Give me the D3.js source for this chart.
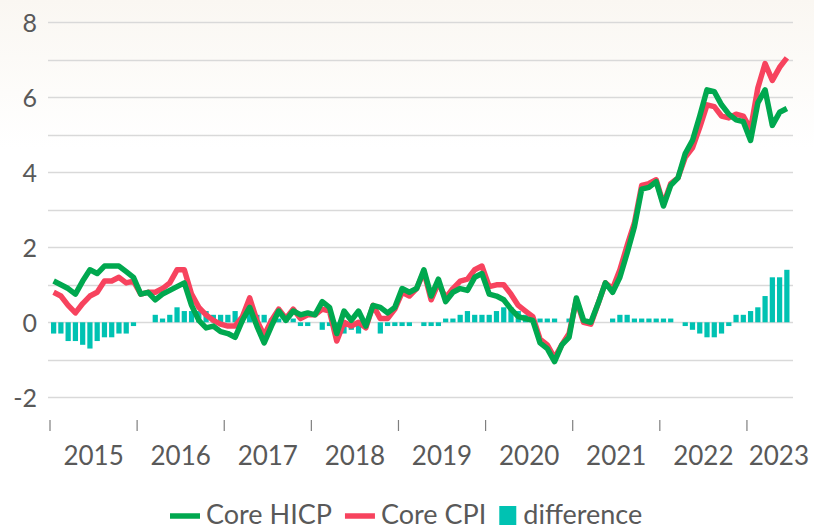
<!DOCTYPE html>
<html><head><meta charset="utf-8">
<script src="https://cdn.jsdelivr.net/npm/d3@7"></script>
<style>
body{margin:0;background:#fff}
svg{display:block}
text{font-family:Lato,"Open Sans",sans-serif;fill:#595959}
</style>
</head><body>
<svg id="chart" width="814" height="532"></svg>
<script>
// ---- data ----
const years = ["2015","2016","2017","2018","2019","2020","2021","2022","2023"];
const yTicks = [-2, 0, 2, 4, 6, 8];
const seriesNames = ["Core HICP", "Core CPI", "difference"];
const months = d3.timeMonth.range(new Date(2015, 0, 1), new Date(2023, 6, 1)); // Jan 2015 .. Jun 2023

const hicp = [
  1.1, 1.0, 0.9, 0.75, 1.1, 1.4, 1.3, 1.5, 1.5, 1.5, 1.35, 1.2,
  0.75, 0.8, 0.6, 0.75, 0.85, 0.95, 1.05, 0.45, 0.05, -0.15, -0.1, -0.25,
  -0.3, -0.4, 0.05, 0.4, -0.1, -0.55, -0.1, 0.3, 0.05, 0.3, 0.2, 0.25,
  0.2, 0.55, 0.4, -0.3, 0.3, 0.05, 0.3, -0.1, 0.45, 0.4, 0.25, 0.4,
  0.9, 0.8, 0.9, 1.4, 0.7, 1.15, 0.55, 0.8, 0.9, 0.85, 1.2, 1.3,
  0.75, 0.7, 0.6, 0.35, 0.15, 0.1, 0.05, -0.55, -0.7, -1.05, -0.6, -0.4,
  0.65, 0.05, 0.0, 0.5, 1.05, 0.8, 1.2, 1.85, 2.55, 3.55, 3.6, 3.75,
  3.1, 3.65, 3.85, 4.5, 4.85, 5.5, 6.2, 6.15, 5.8, 5.55, 5.4, 5.35,
  4.85, 5.85, 6.2, 5.25, 5.6, 5.7
];
const cpi = [
  0.8, 0.7, 0.45, 0.25, 0.5, 0.7, 0.8, 1.1, 1.1, 1.2, 1.05, 1.1,
  0.75, 0.8, 0.8, 0.9, 1.05, 1.4, 1.4, 0.75, 0.4, 0.2, 0.05, -0.05,
  -0.1, -0.1, 0.15, 0.65, 0.05, -0.35, 0.05, 0.35, 0.1, 0.35, 0.1, 0.2,
  0.2, 0.35, 0.3, -0.5, 0.0, -0.1, 0.0, -0.15, 0.45, 0.1, 0.1, 0.35,
  0.8, 0.7, 0.9, 1.35, 0.6, 1.05, 0.65, 0.9, 1.1, 1.15, 1.4, 1.5,
  0.95, 1.0, 1.0, 0.75, 0.45, 0.3, 0.15, -0.45, -0.6, -0.95, -0.6, -0.3,
  0.6, 0.0, -0.05, 0.5, 1.05, 0.9, 1.4, 2.05, 2.65, 3.65, 3.7, 3.8,
  3.15, 3.7, 3.85, 4.4, 4.65, 5.2, 5.8, 5.75, 5.5, 5.45, 5.55, 5.5,
  5.15, 6.25, 6.9, 6.45, 6.8, 7.05
];
const diff = [
  -0.3, -0.3, -0.5, -0.5, -0.6, -0.7, -0.5, -0.4, -0.4, -0.3, -0.3, -0.1,
  0, 0, 0.2, 0.1, 0.2, 0.4, 0.3, 0.3, 0.3, 0.3, 0.2, 0.2,
  0.2, 0.3, 0.1, 0.3, 0.2, 0.2, 0.1, 0.1, 0.1, 0.1, -0.1, -0.1,
  0, -0.2, -0.1, -0.2, -0.3, -0.2, -0.3, -0.1, 0, -0.3, -0.1, -0.1,
  -0.1, -0.1, 0, -0.1, -0.1, -0.1, 0.1, 0.1, 0.2, 0.3, 0.2, 0.2,
  0.2, 0.3, 0.4, 0.4, 0.3, 0.2, 0.1, 0.1, 0.1, 0.1, 0, 0.1,
  0, 0, 0, 0, 0, 0.1, 0.2, 0.2, 0.1, 0.1, 0.1, 0.1,
  0.1, 0.1, 0, -0.1, -0.2, -0.3, -0.4, -0.4, -0.3, -0.1, 0.2, 0.2,
  0.3, 0.4, 0.7, 1.2, 1.2, 1.4
];

// ---- drawing ----
const W = 814, H = 532;
const svg = d3.select("#chart");
const colors = {hicp: "#00a84f", cpi: "#f7435e", diff: "#00c2b2", grid: "#d9d9d9", text: "#595959"};

const defs = svg.append("defs");
const grad = defs.append("linearGradient").attr("id", "bg").attr("x1", 0).attr("y1", 0).attr("x2", 0).attr("y2", 1);
grad.append("stop").attr("offset", 0).attr("stop-color", "#faf7f2");
grad.append("stop").attr("offset", 0.28).attr("stop-color", "#ffffff");
svg.append("rect").attr("width", W).attr("height", H).attr("fill", "url(#bg)");

const x = d3.scaleBand().domain(d3.range(months.length)).range([50, 790.5]).paddingInner(0.28).paddingOuter(0.14);
const xPos = d3.scaleBand().domain(d3.range(months.length)).range([50, 790.5]).padding(0);
const y = d3.scaleLinear().domain([-2, 8]).range([397.3, 22.3]);

// gridlines
svg.append("g").selectAll("line").data(d3.range(-2, 9, 1)).join("line")
  .attr("x1", 48).attr("x2", 793)
  .attr("y1", d => Math.round(y(d)) + 0.5).attr("y2", d => Math.round(y(d)) + 0.5)
  .attr("stroke", colors.grid).attr("stroke-width", 1.3);

// y axis labels (plain hyphen minus, as in the reference)
const yAxis = d3.axisLeft(y).tickValues(yTicks).tickSize(0).tickPadding(0).tickFormat(d => String(d));
const gy = svg.append("g").attr("transform", "translate(37,0)").call(yAxis);
gy.select(".domain").remove();
gy.selectAll("text").style("font-size", "25px").attr("fill", colors.text).attr("dy", "0.36em");

// x axis ticks (year boundaries)
const yearStarts = years.map(yr => months.findIndex(m => m.getFullYear() === +yr));
svg.append("g").selectAll("line").data(yearStarts).join("line")
  .attr("x1", i => xPos(i)).attr("x2", i => xPos(i))
  .attr("y1", 420).attr("y2", 431)
  .attr("stroke", "#7f7f7f").attr("stroke-width", 1.2);

// x labels
const xl = svg.append("g").selectAll("text").data(years).join("text")
  .attr("text-anchor", "middle").attr("y", 465)
  .style("font-size", "26px").attr("fill", colors.text)
  .text(d => d);
xl.each(function(d, k) {
  const start = xPos(yearStarts[k]);
  const cx = start + xPos.step() * 6;
  const w = this.getComputedTextLength();
  d3.select(this).attr("x", Math.min(cx, W - 5 - w / 2));
});

// bars
svg.append("g").selectAll("rect").data(diff).join("rect")
  .attr("x", (d, i) => x(i))
  .attr("width", x.bandwidth())
  .attr("y", d => y(Math.max(0, d)))
  .attr("height", d => Math.abs(y(d) - y(0)))
  .attr("fill", colors.diff);

// lines
const line = d3.line().x((d, i) => xPos(i) + xPos.bandwidth() / 2).y(d => y(d)).curve(d3.curveLinear);
svg.append("path").datum(cpi).attr("d", line).attr("fill", "none")
  .attr("stroke", colors.cpi).attr("stroke-width", 5.5).attr("stroke-linejoin", "round");
svg.append("path").datum(hicp).attr("d", line).attr("fill", "none")
  .attr("stroke", colors.hicp).attr("stroke-width", 5.5).attr("stroke-linejoin", "round");

// legend
const leg = svg.append("g");
let lx = 170;
const ly = 516;
seriesNames.forEach((name, k) => {
  if (k < 2) {
    leg.append("line").attr("x1", lx).attr("x2", lx + 30).attr("y1", ly).attr("y2", ly)
      .attr("stroke", k === 0 ? colors.hicp : colors.cpi).attr("stroke-width", 5.5);
    lx += 36;
  } else {
    leg.append("rect").attr("x", lx).attr("y", ly - 10).attr("width", 17).attr("height", 19)
      .attr("fill", colors.diff);
    lx += 24;
  }
  const t = leg.append("text").attr("x", lx).attr("y", ly + 8).style("font-size", "27px")
    .attr("fill", colors.text).text(name);
  lx += t.node().getComputedTextLength() + 13;
});
</script>
</body></html>
